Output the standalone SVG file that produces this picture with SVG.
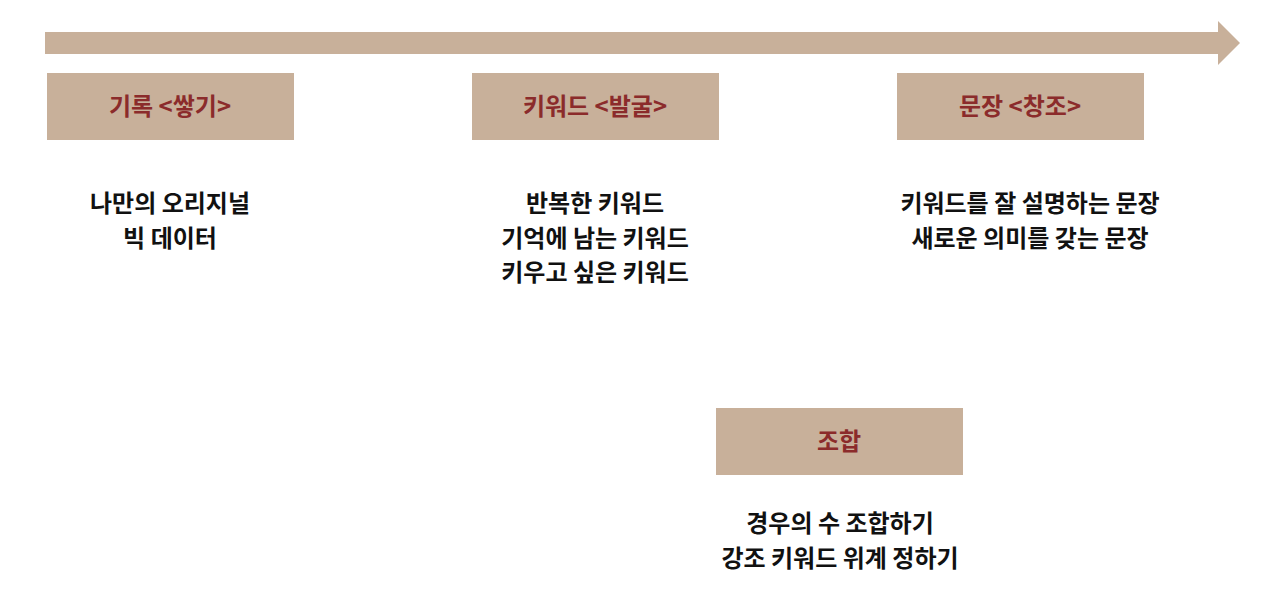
<svg xmlns="http://www.w3.org/2000/svg" width="1280" height="605" viewBox="0 0 1280 605">
<style>
.box{fill:#c8b09a}
.lbl{font-family:"Noto Sans CJK KR",sans-serif;font-weight:bold;font-size:24px;fill:#8b2b2b;text-anchor:middle}
.txt{font-family:"Noto Sans CJK KR",sans-serif;font-weight:bold;font-size:24px;fill:#111;text-anchor:middle}
</style>
<rect width="1280" height="605" fill="#fff"/>
<g id="connectors">
<polygon class="box" points="45,32 1218,32 1218,21 1240,43 1218,65 1218,54 45,54"/>
</g>
<g id="n1">
<rect class="box" x="47" y="73" width="247" height="67"/>
<text class="lbl" x="170" y="115">기록 &lt;쌓기&gt;</text>
<text class="txt" x="170" y="212">나만의 오리지널</text>
<text class="txt" x="170" y="247">빅 데이터</text>
</g>
<g id="n2">
<rect class="box" x="472" y="73" width="247" height="67"/>
<text class="lbl" x="595" y="115">키워드 &lt;발굴&gt;</text>
<text class="txt" x="595" y="212">반복한 키워드</text>
<text class="txt" x="595" y="247">기억에 남는 키워드</text>
<text class="txt" x="595" y="281">키우고 싶은 키워드</text>
</g>
<g id="n3">
<rect class="box" x="897" y="73" width="247" height="67"/>
<text class="lbl" x="1020" y="115">문장 &lt;창조&gt;</text>
<text class="txt" x="1030" y="212">키워드를 잘 설명하는 문장</text>
<text class="txt" x="1030" y="247">새로운 의미를 갖는 문장</text>
</g>
<g id="n4">
<rect class="box" x="716" y="408" width="247" height="67"/>
<text class="lbl" x="839" y="450">조합</text>
<text class="txt" x="840" y="532">경우의 수 조합하기</text>
<text class="txt" x="840" y="567">강조 키워드 위계 정하기</text>
</g>
</svg>
